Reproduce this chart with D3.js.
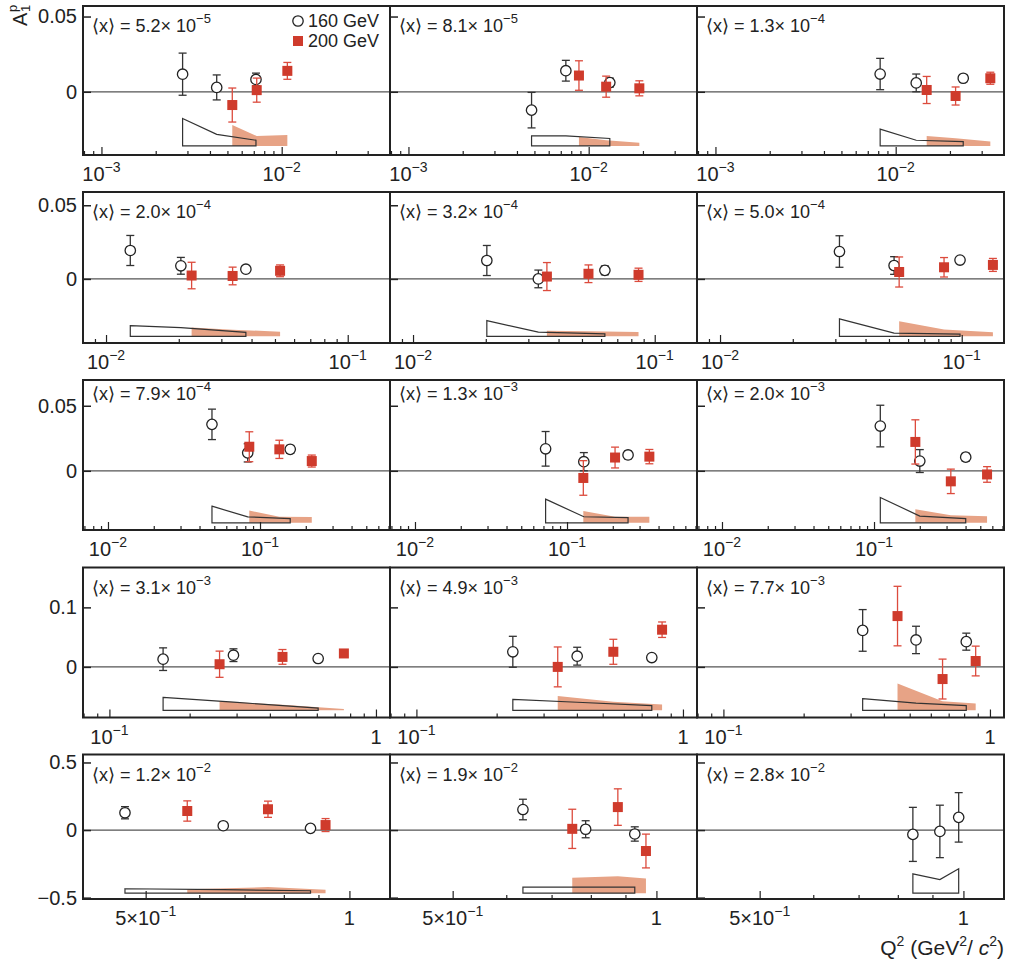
<!DOCTYPE html>
<html>
<head>
<meta charset="utf-8">
<script src="https://cdnjs.cloudflare.com/ajax/libs/d3/7.8.5/d3.min.js"></script>
<style>
body { margin: 0; background: #fff; }
svg text { font-family: "Liberation Sans", Arial, Helvetica, sans-serif; fill: #222; }
</style>
</head>
<body>
<svg id="chart" width="1009" height="962"></svg>
<script>
// <x> of each bin (panel label)
var x_mant = ["5.2", "8.1", "1.3", "2.0", "3.2", "5.0", "7.9", "1.3", "2.0", "3.1", "4.9", "7.7", "1.2", "1.9", "2.8"];
var x_exp  = ["−5", "−5", "−4", "−4", "−4", "−4", "−4", "−3", "−3", "−3", "−3", "−3", "−2", "−2", "−2"];

// 160 GeV : Q2, A1p, stat error, syst error
var q2_160 = [
    [2.82e-3, 4.36e-3, 7.2e-3], [4.82e-3, 7.47e-3, 1.31e-2], [8.2e-3, 1.30e-2, 2.37e-2],
    [0.0126, 0.0204, 0.0379], [0.0202, 0.033, 0.0622], [0.0312, 0.0525, 0.0984],
    [0.0483, 0.083, 0.158], [0.0723, 0.129, 0.252], [0.110, 0.200, 0.401],
    [0.159, 0.292, 0.607], [0.230, 0.401, 0.764], [0.333, 0.528, 0.815],
    [0.466, 0.651, 0.876], [0.635, 0.786, 0.929], [0.842, 0.923, 0.984]];
var a1_160 = [
    [0.0117, 0.0029, 0.0082], [-0.0122, 0.0140, 0.0061], [0.0118, 0.0059, 0.0090],
    [0.0193, 0.0089, 0.0066], [0.0125, 0.0000, 0.0058], [0.0186, 0.0091, 0.0128],
    [0.0357, 0.0138, 0.0165], [0.0169, 0.0070, 0.0122], [0.0344, 0.0075, 0.0105],
    [0.013, 0.0197, 0.0141], [0.0254, 0.018, 0.0157], [0.0613, 0.0453, 0.0424],
    [0.128, 0.032, 0.0126], [0.152, 0.006, -0.029], [-0.032, -0.01, 0.094]];
var stat_160 = [
    [0.014, 0.0083, 0.0042], [0.0118, 0.0069, 0.003], [0.0104, 0.0059, 0.0022],
    [0.0102, 0.0057, 0.0022], [0.0102, 0.006, 0.003], [0.0107, 0.006, 0.0022],
    [0.0117, 0.007, 0.003], [0.0133, 0.007, 0.003], [0.016, 0.0088, 0.003],
    [0.019, 0.0107, 0.004], [0.026, 0.015, 0.004], [0.035, 0.023, 0.0143],
    [0.045, 0.02, 0.015], [0.076, 0.063, 0.053], [0.2, 0.194, 0.183]];
var syst_160 = [
    [0.0183, 0.0077, 0.0038], [0.0067, 0.0067, 0.005], [0.0112, 0.0038, 0.0029],
    [0.0073, 0.0059, 0.0027], [0.0107, 0.0029, 0.0017], [0.0119, 0.0022, 0.0015],
    [0.0128, 0.0046, 0.0033], [0.0182, 0.0047, 0.004], [0.0195, 0.0052, 0.0032],
    [0.0219, 0.0137, 0.0039], [0.0183, 0.0136, 0.0081], [0.0196, 0.012, 0.0081],
    [0.033, 0.026, 0.018], [0.045, 0.045, 0.045], [0.143, 0.101, 0.181]];

// 200 GeV : Q2, A1p, stat error, syst error (no data in the last bin)
var q2_200 = [
    [5.32e-3, 7.27e-3, 1.075e-2], [8.83e-3, 1.25e-2, 1.91e-2], [1.486e-2, 2.15e-2, 3.35e-2],
    [0.0226, 0.0334, 0.0525], [0.0358, 0.0532, 0.0857], [0.0551, 0.0845, 0.1346],
    [0.085, 0.134, 0.219], [0.128, 0.207, 0.348], [0.187, 0.320, 0.554],
    [0.259, 0.446, 0.758], [0.339, 0.548, 0.835], [0.450, 0.664, 0.884],
    [0.576, 0.758, 0.922], [0.751, 0.877, 0.965], []];
var a1_200 = [
    [-0.0088, 0.0011, 0.0139], [0.0108, 0.0034, 0.0023], [0.0012, -0.0028, 0.009],
    [0.0023, 0.002, 0.0055], [0.0016, 0.0035, 0.0028], [0.0047, 0.0079, 0.0095],
    [0.0185, 0.0165, 0.0075], [-0.0055, 0.0102, 0.0109], [0.0222, -0.0081, -0.0028],
    [0.0045, 0.0168, 0.0226], [0.0, 0.0254, 0.0625], [0.0854, -0.0204, 0.0099],
    [0.141, 0.154, 0.037], [0.009, 0.17, -0.155], []];
var stat_200 = [
    [0.0113, 0.008, 0.0056], [0.0098, 0.007, 0.005], [0.009, 0.006, 0.004],
    [0.009, 0.006, 0.004], [0.0095, 0.006, 0.0045], [0.0102, 0.0066, 0.0044],
    [0.0115, 0.007, 0.0046], [0.0133, 0.008, 0.0055], [0.017, 0.0094, 0.006],
    [0.022, 0.0124, 0.004], [0.0335, 0.021, 0.013], [0.05, 0.0335, 0.025],
    [0.075, 0.06, 0.048], [0.145, 0.135, 0.125], []];
var syst_200 = [
    [0.0139, 0.0066, 0.0073], [0.006, 0.0038, 0.0022], [0.0067, 0.0052, 0.0029],
    [0.0061, 0.0045, 0.0032], [0.0038, 0.0034, 0.0029], [0.0102, 0.0046, 0.0028],
    [0.0095, 0.0046, 0.0044], [0.0092, 0.0047, 0.0047], [0.0105, 0.0058, 0.005],
    [0.0152, 0.0096, 0.0022], [0.0241, 0.0143, 0.0098], [0.0451, 0.0155, 0.0114],
    [0.03, 0.045, 0.025], [0.114, 0.126, 0.108], []];

// axis ranges / ticks for each row of panels
var x_range = [[7.9e-4, 0.0399], [8.03e-3, 0.1496], [6.85e-3, 0.716], [0.0796, 1.129], [0.404, 1.148]];
var y_range = [[-0.042, 0.057], [-0.0435, 0.059], [-0.0455, 0.0698], [-0.085, 0.167], [-0.51, 0.559]];
var x_labels = [[1e-3, 1e-2], [1e-2, 1e-1], [1e-2, 1e-1], [1e-1, 1], [0.5, 1]];
var y_ticks = [[0, 0.05], [0, 0.05], [0, 0.05], [0, 0.1], [-0.5, 0, 0.5]];
var syst_base = [-0.036, -0.039, -0.040, -0.073, -0.467];

//-----------------------------------------------------------------------------
var svg = d3.select("#chart");
var font = '"Liberation Sans", Arial, Helvetica, sans-serif';
var col_left = [83, 390, 697], col_w = 307;
var row_top = [6, 192, 380, 567.5, 754.5], row_bot = [155, 343, 530, 717.5, 899];
var label_off = [25.5, 26, 20, 26.5, 26.5];

for (var p = 0; p < 15; p++) {
    draw_panel(p, Math.floor(p / 3), p % 3);
}

function fmt_minus(s) { return String(s).replace("-", "−"); }

function draw_panel(p, r, c) {
    var x0 = col_left[c], x1 = x0 + col_w, y0 = row_top[r], y1 = row_bot[r];
    var x = d3.scaleLog().domain(x_range[r]).range([x0, x1]);
    var y = d3.scaleLinear().domain(y_range[r]).range([y1, y0]);
    var g = svg.append("g");

    var d160 = q2_160[p].map(function(q, i) { return {q: q, a: a1_160[p][i], e: stat_160[p][i], s: syst_160[p][i]}; });
    var d200 = q2_200[p].map(function(q, i) { return {q: q, a: a1_200[p][i], e: stat_200[p][i], s: syst_200[p][i]}; });

    // systematic bands
    var base = syst_base[r];
    var band = d3.area()
        .x(function(d) { return x(d.q); })
        .y0(y(base))
        .y1(function(d) { return y(base + d.s); });
    if (d200.length) {
        g.append("path").attr("d", band(d200)).attr("fill", "#e7a386");
    }
    g.append("path").attr("d", band(d160))
        .attr("fill", "none").attr("stroke", "#333").attr("stroke-width", 1.2);

    // zero line
    g.append("line")
        .attr("x1", x0).attr("x2", x1).attr("y1", y(0)).attr("y2", y(0))
        .attr("stroke", "#555").attr("stroke-width", 1.2);

    // y axis
    var ya = g.append("g").attr("transform", `translate(${x0},0)`)
        .call(d3.axisLeft(y).tickValues(y_ticks[r]).tickSize(-8).tickPadding(6)
            .tickFormat(c == 0 ? function(d) { return fmt_minus(d); } : ""));
    ya.select(".domain").remove();
    ya.attr("font-size", 20).attr("font-family", font).attr("color", "#222");
    ya.selectAll("line").attr("stroke-width", 1.5);

    // x axis : minor + major ticks
    var majors = x_labels[r];
    var is_major = function(v) { return majors.some(function(m) { return Math.abs(m - v) / m < 1e-6; }); };
    var all = x.ticks();
    var xa = g.append("g").attr("transform", `translate(0,${y1})`).attr("color", "#222");
    xa.append("g").call(d3.axisBottom(x).tickValues(all.filter(function(v) { return !is_major(v); }))
        .tickSize(-4).tickFormat(""));
    xa.append("g").call(d3.axisBottom(x).tickValues(majors).tickSize(-8).tickFormat(""));
    xa.selectAll(".domain").remove();
    xa.selectAll("line").attr("stroke-width", 1.2);

    majors.forEach(function(v) {
        var t = g.append("text").attr("x", x(v)).attr("y", y1 + 26)
            .attr("text-anchor", "middle").attr("font-size", 20);
        var e = Math.floor(Math.log10(v) + 1e-9);
        var m = Math.round(v / Math.pow(10, e));
        if (e == 0) { t.text(String(m)); return; }
        t.append("tspan").text(m == 1 ? "10" : m + "×10");
        t.append("tspan").attr("dy", -9).attr("font-size", 14).text(fmt_minus(e));
    });

    // error bars + markers
    draw_points(g, x, y, d160, "c");
    draw_points(g, x, y, d200, "s");

    // panel label
    var lab = g.append("text").attr("x", x0 + 9).attr("y", y0 + label_off[r]).attr("font-size", 18);
    lab.append("tspan").text("⟨x⟩ = " + x_mant[p] + "× 10");
    lab.append("tspan").attr("dy", -9).attr("font-size", 13).text(x_exp[p]);

    // frame
    g.append("rect").attr("x", x0).attr("y", y0).attr("width", col_w).attr("height", y1 - y0)
        .attr("fill", "none").attr("stroke", "#222").attr("stroke-width", 2);
}

function draw_points(g, x, y, data, kind) {
    if (!data.length) return;
    var eg = g.append("g")
        .attr("stroke", kind == "c" ? "#333" : "#dc4b3d")
        .attr("stroke-width", 1.3);
    data.forEach(function(d) {
        var cx = x(d.q), yt = y(d.a + d.e), yb = y(d.a - d.e);
        eg.append("line").attr("x1", cx).attr("x2", cx).attr("y1", yt).attr("y2", yb);
        eg.append("line").attr("x1", cx - 4).attr("x2", cx + 4).attr("y1", yt).attr("y2", yt);
        eg.append("line").attr("x1", cx - 4).attr("x2", cx + 4).attr("y1", yb).attr("y2", yb);
    });
    if (kind == "c") {
        g.selectAll(null).data(data).enter().append("circle")
            .attr("cx", function(d) { return x(d.q); })
            .attr("cy", function(d) { return y(d.a); })
            .attr("r", 5.2)
            .attr("fill", "#fff").attr("stroke", "#222").attr("stroke-width", 1.3);
    } else {
        g.selectAll(null).data(data).enter().append("rect")
            .attr("x", function(d) { return x(d.q) - 5; })
            .attr("y", function(d) { return y(d.a) - 5; })
            .attr("width", 10).attr("height", 10)
            .attr("fill", "#cf3b2c");
    }
}

// legend (first panel)
var leg = svg.append("g");
leg.append("circle").attr("cx", 298).attr("cy", 21).attr("r", 5.2)
    .attr("fill", "#fff").attr("stroke", "#222").attr("stroke-width", 1.3);
leg.append("text").attr("x", 308).attr("y", 27).attr("font-size", 18).text("160 GeV");
leg.append("rect").attr("x", 293).attr("y", 36).attr("width", 10).attr("height", 10).attr("fill", "#cf3b2c");
leg.append("text").attr("x", 308).attr("y", 47).attr("font-size", 18).text("200 GeV");

// y title A1p
var yt = svg.append("g").attr("transform", "translate(27,26) rotate(-90)");
yt.append("text").attr("x", 0).attr("y", 0).attr("font-size", 20).text("A");
yt.append("text").attr("x", 14).attr("y", 3).attr("font-size", 13).text("1");
yt.append("text").attr("x", 14).attr("y", -10).attr("font-size", 13).text("p");

// x title Q2 (GeV2/c2)
var xt = svg.append("text").attr("x", 1004).attr("y", 955).attr("text-anchor", "end").attr("font-size", 21);
xt.append("tspan").text("Q");
xt.append("tspan").attr("dy", -9).attr("font-size", 14).text("2");
xt.append("tspan").attr("dy", 9).text(" (GeV");
xt.append("tspan").attr("dy", -9).attr("font-size", 14).text("2");
xt.append("tspan").attr("dy", 9).text("/ ");
xt.append("tspan").attr("font-style", "italic").text("c");
xt.append("tspan").attr("dy", -9).attr("font-size", 14).text("2");
xt.append("tspan").attr("dy", 9).text(")");
</script>
</body>
</html>
